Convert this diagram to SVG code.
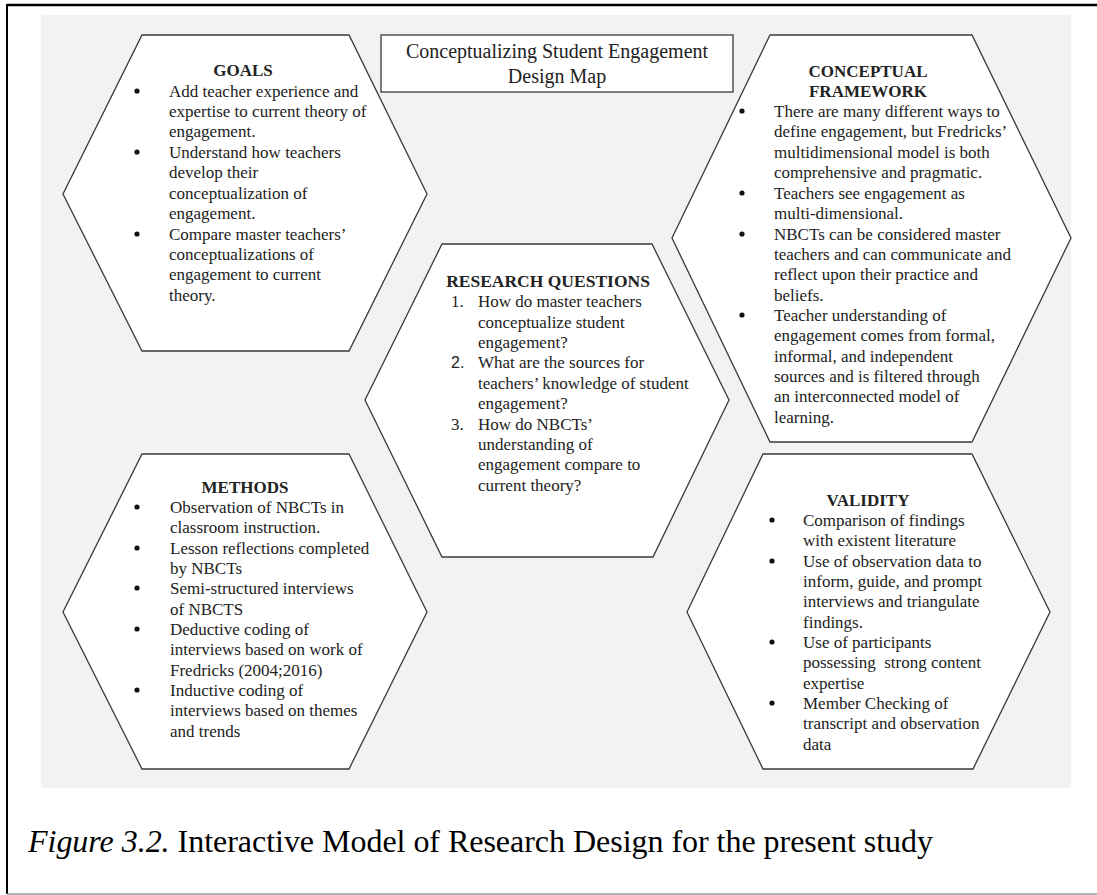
<svg xmlns="http://www.w3.org/2000/svg" width="1097" height="895" viewBox="0 0 1097 895">
<style>
.hex{fill:#ffffff;stroke:#3a3a3a;stroke-width:1.3}
.t{font-family:"Liberation Serif","Times New Roman",serif;font-size:17px;fill:#222;white-space:pre}
.h{font-family:"Liberation Serif","Times New Roman",serif;font-size:17px;font-weight:bold;fill:#222;text-anchor:middle}
.n{font-family:"Liberation Sans",Arial,sans-serif;font-size:16px;fill:#222}
.dot{fill:#111}
</style>
<rect x="0" y="0" width="1097" height="895" fill="#ffffff"/>
<line x1="7" y1="5" x2="1097" y2="5" stroke="#000" stroke-width="2.5"/>
<line x1="7" y1="4" x2="7" y2="894" stroke="#000" stroke-width="2"/>
<line x1="7" y1="894" x2="1097" y2="894" stroke="#999" stroke-width="1.5"/>
<rect x="41" y="15" width="1030" height="773" fill="#f2f2f2"/>

<g id="title">
<rect x="381" y="35" width="352" height="57" fill="#fff" stroke="#3a3a3a" stroke-width="1.3"/>
<text x="557" y="58" class="t" style="font-size:20px" text-anchor="middle">Conceptualizing Student Engagement</text>
<text x="557" y="83" class="t" style="font-size:20px" text-anchor="middle">Design Map</text>
</g>

<g id="goals">
<polygon class="hex" points="142,35 349,35 427,194 349,351 142,351 63,194"/>
<text x="243" y="76" class="h">GOALS</text>
<circle class="dot" cx="137" cy="91" r="2.6"/><circle class="dot" cx="137" cy="152" r="2.6"/><circle class="dot" cx="137" cy="234" r="2.6"/>
<text class="t">
<tspan x="169" y="97">Add teacher experience and</tspan>
<tspan x="169" y="117">expertise to current theory of</tspan>
<tspan x="169" y="137">engagement.</tspan>
<tspan x="169" y="158">Understand how teachers</tspan>
<tspan x="169" y="178">develop their</tspan>
<tspan x="169" y="199">conceptualization of</tspan>
<tspan x="169" y="219">engagement.</tspan>
<tspan x="169" y="240">Compare master teachers’</tspan>
<tspan x="169" y="260">conceptualizations of</tspan>
<tspan x="169" y="280">engagement to current</tspan>
<tspan x="169" y="301">theory.</tspan>
</text>
</g>

<g id="conceptual-framework">
<polygon class="hex" points="770,35 972,35 1071,238 972,442 770,442 672,238"/>
<text x="868" y="77" class="h">CONCEPTUAL</text>
<text x="868" y="97" class="h">FRAMEWORK</text>
<circle class="dot" cx="742" cy="111" r="2.6"/><circle class="dot" cx="742" cy="193" r="2.6"/><circle class="dot" cx="742" cy="234" r="2.6"/><circle class="dot" cx="742" cy="315" r="2.6"/>
<text class="t">
<tspan x="774" y="117">There are many different ways to</tspan>
<tspan x="774" y="137">define engagement, but Fredricks’</tspan>
<tspan x="774" y="158">multidimensional model is both</tspan>
<tspan x="774" y="178">comprehensive and pragmatic.</tspan>
<tspan x="774" y="199">Teachers see engagement as</tspan>
<tspan x="774" y="219">multi-dimensional.</tspan>
<tspan x="774" y="240">NBCTs can be considered master</tspan>
<tspan x="774" y="260">teachers and can communicate and</tspan>
<tspan x="774" y="280">reflect upon their practice and</tspan>
<tspan x="774" y="301">beliefs.</tspan>
<tspan x="774" y="321">Teacher understanding of</tspan>
<tspan x="774" y="341">engagement comes from formal,</tspan>
<tspan x="774" y="362">informal, and independent</tspan>
<tspan x="774" y="382">sources and is filtered through</tspan>
<tspan x="774" y="402">an interconnected model of</tspan>
<tspan x="774" y="423">learning.</tspan>
</text>
</g>

<g id="research-questions">
<polygon class="hex" points="442,244 652,244 729,400 653,557 442,557 365,400"/>
<text x="548" y="287" class="h" style="font-size:17.5px">RESEARCH QUESTIONS</text>
<text x="451" y="307" class="t">1.</text>
<text x="451" y="368" class="n">2.</text>
<text x="451" y="430" class="t">3.</text>
<text class="t">
<tspan x="478" y="307">How do master teachers</tspan>
<tspan x="478" y="328">conceptualize student</tspan>
<tspan x="478" y="348">engagement?</tspan>
<tspan x="478" y="368">What are the sources for</tspan>
<tspan x="478" y="389">teachers’ knowledge of student</tspan>
<tspan x="478" y="409">engagement?</tspan>
<tspan x="478" y="430">How do NBCTs’</tspan>
<tspan x="478" y="450">understanding of</tspan>
<tspan x="478" y="470">engagement compare to</tspan>
<tspan x="478" y="491">current theory?</tspan>
</text>
</g>

<g id="methods">
<polygon class="hex" points="142,454 349,454 427,612 349,769 142,769 63,612"/>
<text x="245" y="493" class="h">METHODS</text>
<circle class="dot" cx="137" cy="507" r="2.6"/><circle class="dot" cx="137" cy="548" r="2.6"/><circle class="dot" cx="137" cy="588" r="2.6"/><circle class="dot" cx="137" cy="629" r="2.6"/><circle class="dot" cx="137" cy="690" r="2.6"/>
<text class="t">
<tspan x="170" y="513">Observation of NBCTs in</tspan>
<tspan x="170" y="533">classroom instruction.</tspan>
<tspan x="170" y="554">Lesson reflections completed</tspan>
<tspan x="170" y="574">by NBCTs</tspan>
<tspan x="170" y="594">Semi-structured interviews</tspan>
<tspan x="170" y="615">of NBCTS</tspan>
<tspan x="170" y="635">Deductive coding of</tspan>
<tspan x="170" y="655">interviews based on work of</tspan>
<tspan x="170" y="676">Fredricks (2004;2016)</tspan>
<tspan x="170" y="696">Inductive coding of</tspan>
<tspan x="170" y="716">interviews based on themes</tspan>
<tspan x="170" y="737">and trends</tspan>
</text>
</g>

<g id="validity">
<polygon class="hex" points="763,454 972,454 1050,612 973,769 763,769 687,612"/>
<text x="868" y="506" class="h">VALIDITY</text>
<circle class="dot" cx="772" cy="520" r="2.6"/><circle class="dot" cx="772" cy="561" r="2.6"/><circle class="dot" cx="772" cy="642" r="2.6"/><circle class="dot" cx="772" cy="703" r="2.6"/>
<text class="t">
<tspan x="803" y="526">Comparison of findings</tspan>
<tspan x="803" y="546">with existent literature</tspan>
<tspan x="803" y="567">Use of observation data to</tspan>
<tspan x="803" y="587">inform, guide, and prompt</tspan>
<tspan x="803" y="607">interviews and triangulate</tspan>
<tspan x="803" y="628">findings.</tspan>
<tspan x="803" y="648">Use of participants</tspan>
<tspan x="803" y="668">possessing  strong content</tspan>
<tspan x="803" y="689">expertise</tspan>
<tspan x="803" y="709">Member Checking of</tspan>
<tspan x="803" y="729">transcript and observation</tspan>
<tspan x="803" y="750">data</tspan>
</text>
</g>

<g id="connectors"></g>

<text x="28" y="852" font-family="'Liberation Serif','Times New Roman',serif" font-size="32" fill="#000" textLength="905" lengthAdjust="spacing"><tspan font-style="italic">Figure 3.2.</tspan> Interactive Model of Research Design for the present study</text>
</svg>
